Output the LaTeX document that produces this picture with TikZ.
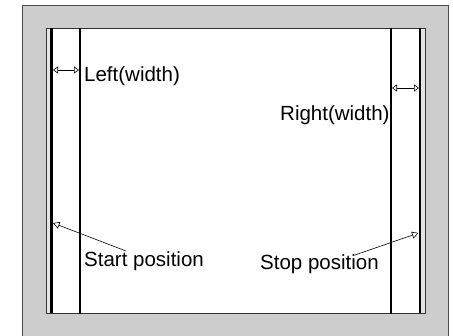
\documentclass[tikz,border=0pt]{standalone}
\usepackage{fontspec}
\setmainfont{Liberation Sans}
\usepackage{tikz}
\usetikzlibrary{arrows.meta,positioning}
\definecolor{framegray}{RGB}{205,205,205}
\definecolor{stripgray}{RGB}{228,228,228}

\begin{document}
\begin{tikzpicture}[
  x=1pt, y=-1pt,
  lbl/.style={anchor=base west, inner sep=0pt, font=\fontsize{20.5}{24}\selectfont},
  edge/.style={draw=black, line width=2.4pt},
  cut/.style={draw=black, line width=1.4pt},
  arr/.style={{Triangle[open,length=5pt,width=7pt]}-{Triangle[open,length=5pt,width=7pt]}, line width=0.6pt},
  ptr/.style={-{Triangle[open,length=6.5pt,width=7pt]}, line width=0.6pt}
]
\useasboundingbox (0,0) rectangle (453,336);
% frame and work area
\filldraw[fill=framegray, draw=black!70, line width=0.6pt] (22,5) rectangle (448,336);
\fill[stripgray] (46,28) rectangle (425,313);
\filldraw[fill=white, draw=none] (50,28) rectangle (421,313);
\draw[black!80, line width=0.6pt] (46,28) rectangle (425,313);
% edge lines and cut lines
\draw[edge] (51.5,28) -- (51.5,313);
\draw[edge] (420,28) -- (420,313);
\draw[cut] (80,28) -- (80,314);
\draw[cut] (391,28) -- (391,314);
% labels
\node[lbl] (left) at (84,82) {Left(width)};
\node[lbl] (right) at (280,121) {Right(width)};
\node[lbl] (start) at (84,267) {Start position};
\node[lbl] (stop) at (260,270) {Stop position};
% arrow ends
\coordinate (lw1) at (53,70);
\coordinate (lw2) at (79,70);
\coordinate (rw1) at (392,88);
\coordinate (rw2) at (419,88);
\coordinate (st) at (126,251);
\coordinate (sp) at (53,223);
\coordinate (et) at (355,255);
\coordinate (ep) at (418.5,233);
\draw[arr] (lw1) -- (lw2);
\draw[arr] (rw1) -- (rw2);
\draw[ptr] (st) -- (sp);
\draw[ptr] (et) -- (ep);
\end{tikzpicture}
\end{document}
